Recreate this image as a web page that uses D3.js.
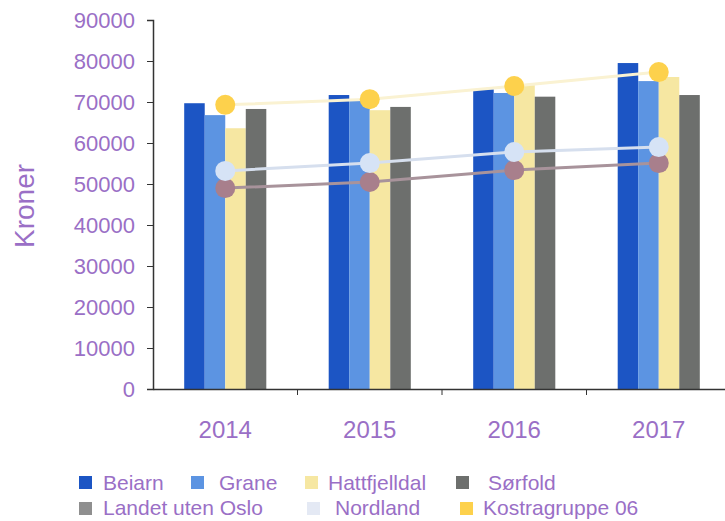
<!DOCTYPE html>
<html><head><meta charset="utf-8">
<script src="https://cdn.jsdelivr.net/npm/d3@7"></script>
<style>body{margin:0;background:#fff}svg{display:block}text{font-family:"Liberation Sans",Arial,sans-serif}</style>
</head><body><svg id="c" width="725" height="521"></svg>
<script>
const years = ["2014","2015","2016","2017"];
const barSeries = ["Beiarn","Grane","Hattfjelldal","Sørfold"];
const beiarn = [69700, 71700, 73100, 79500];
const grane = [66800, 70500, 72200, 75100];
const hattfjelldal = [63600, 68000, 74100, 76100];
const sorfold = [68300, 68800, 71300, 71700];
const lineSeries = ["Landet uten Oslo","Nordland","Kostragruppe 06"];
const landet = [49000, 50500, 53400, 55100];
const nordland = [53200, 55100, 57800, 59000];
const kostra = [69300, 70700, 73900, 77300];
const yTicks = [0,10000,20000,30000,40000,50000,60000,70000,80000,90000];

const barColors = ["#1c55c4","#5c94e2","#f6e7a2","#6d6f6d"];
const lineColors = ["#a8939b","#d6dfee","#faf2d2"];
const markerColors = ["#a87f8c","#d6e3f6","#fdd14c"];
const textColor = "#9a6fc6";

const svg = d3.select("#c");
const x = d3.scaleBand().domain(years).range([153, 731]).padding(0);
const xi = d3.scaleBand().domain(barSeries).range([0, x.bandwidth()]).paddingInner(0).paddingOuter(1.52);
const y = d3.scaleLinear().domain([0, 90000]).range([389, 20]);

const barData = [beiarn, grane, hattfjelldal, sorfold];
const lineData = [landet, nordland, kostra];

// bars
barSeries.forEach((s, si) => {
  svg.append("g").selectAll("rect").data(years).join("rect")
    .attr("x", d => x(d) + xi(s))
    .attr("width", xi.bandwidth())
    .attr("y", (d, i) => y(barData[si][i]))
    .attr("height", (d, i) => y(0) - y(barData[si][i]))
    .attr("fill", barColors[si]);
});

// lines
const line = d3.line().x((d, i) => x(years[i]) + x.bandwidth() / 2).y(d => y(d));
lineSeries.forEach((s, si) => {
  svg.append("path").datum(lineData[si]).attr("d", line)
    .attr("fill", "none").attr("stroke", lineColors[si]).attr("stroke-width", 3);
});
lineSeries.forEach((s, si) => {
  svg.append("g").selectAll("circle").data(lineData[si]).join("circle")
    .attr("cx", (d, i) => x(years[i]) + x.bandwidth() / 2)
    .attr("cy", d => y(d)).attr("r", 10)
    .attr("fill", markerColors[si]);
});

// y axis
const ya = svg.append("g").attr("transform", "translate(153,0)")
  .call(d3.axisLeft(y).tickValues(yTicks).tickSize(6).tickPadding(12).tickFormat(d3.format("d")));
ya.select(".domain").attr("stroke", "#333").attr("stroke-width", 1.5);
ya.selectAll(".tick line").attr("stroke", "#333");
ya.selectAll(".tick text").attr("fill", textColor).attr("font-size", 22)
  .attr("font-family", "Liberation Sans, Arial, sans-serif");

// x axis
const xa = svg.append("g").attr("transform", "translate(0,389)")
  .call(d3.axisBottom(x).tickSize(0).tickPadding(32));
xa.select(".domain").attr("stroke", "#333").attr("stroke-width", 1.5);
xa.selectAll(".tick text").attr("fill", textColor).attr("font-size", 24)
  .attr("font-family", "Liberation Sans, Arial, sans-serif");
svg.append("g").selectAll("line").data(years.slice(1)).join("line")
  .attr("x1", d => x(d)).attr("x2", d => x(d))
  .attr("y1", 389).attr("y2", 395).attr("stroke", "#333");

// y title
svg.append("text").attr("transform", "translate(34,206) rotate(-90)")
  .attr("text-anchor", "middle").attr("font-size", 28).attr("fill", textColor).text("Kroner");

// legend
const legendItems = [
  {name: "Beiarn", color: barColors[0], sx: 79, tx: 103, row: 0},
  {name: "Grane", color: barColors[1], sx: 191, tx: 219, row: 0},
  {name: "Hattfjelldal", color: barColors[2], sx: 305, tx: 328, row: 0},
  {name: "Sørfold", color: barColors[3], sx: 456, tx: 488, row: 0},
  {name: "Landet uten Oslo", color: "#8f8f8f", sx: 79, tx: 103, row: 1},
  {name: "Nordland", color: "#e4e9f4", sx: 307, tx: 335, row: 1},
  {name: "Kostragruppe 06", color: markerColors[2], sx: 460, tx: 483, row: 1}
];
const lg = svg.append("g");
lg.selectAll("rect").data(legendItems).join("rect")
  .attr("x", d => d.sx).attr("y", d => 476 + d.row * 26)
  .attr("width", 13).attr("height", 13).attr("fill", d => d.color);
lg.selectAll("text").data(legendItems).join("text")
  .attr("x", d => d.tx).attr("y", d => 490 + d.row * 25)
  .attr("font-size", 21).attr("fill", textColor).text(d => d.name);
</script></body></html>
